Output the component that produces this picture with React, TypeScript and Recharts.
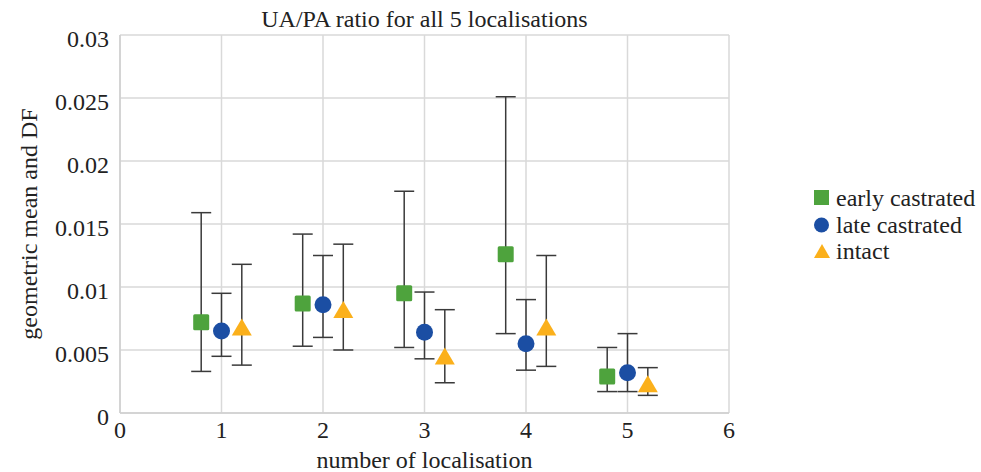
import React from 'react';
import { ScatterChart, Scatter, XAxis, YAxis, CartesianGrid, ErrorBar } from 'recharts';

const localisations = [1, 2, 3, 4, 5];
const xTicks = [0, 1, 2, 3, 4, 5, 6];
const yTicks = [0, 0.005, 0.01, 0.015, 0.02, 0.025, 0.03];

const earlyMean = [0.0072, 0.0087, 0.0095, 0.0126, 0.0029];
const earlyUpper = [0.0159, 0.0142, 0.0176, 0.0251, 0.0052];
const earlyLower = [0.0033, 0.0053, 0.0052, 0.0063, 0.0017];

const lateMean = [0.0065, 0.0086, 0.0064, 0.0055, 0.0032];
const lateUpper = [0.0095, 0.0125, 0.0096, 0.009, 0.0063];
const lateLower = [0.0045, 0.006, 0.0043, 0.0034, 0.0017];

const intactMean = [0.0067, 0.0081, 0.0044, 0.0067, 0.0022];
const intactUpper = [0.0118, 0.0134, 0.0082, 0.0125, 0.0036];
const intactLower = [0.0038, 0.005, 0.0024, 0.0037, 0.0014];

const GREEN = '#4ea33d';
const BLUE = '#1b4ea3';
const ORANGE = '#fbb01b';
const FONT = '"Liberation Serif"';

function build(offset: number, mean: number[], upper: number[], lower: number[]) {
  return localisations.map((loc, i) => ({
    x: loc + offset,
    y: mean[i],
    err: [mean[i] - lower[i], upper[i] - mean[i]],
  }));
}

const earlyData = build(-0.2, earlyMean, earlyUpper, earlyLower);
const lateData = build(0, lateMean, lateUpper, lateLower);
const intactData = build(0.2, intactMean, intactUpper, intactLower);

const Square = (p: any) => <rect x={p.cx - 8} y={p.cy - 8} width={16} height={16} rx={1.5} fill={GREEN} />;
const Circle = (p: any) => <circle cx={p.cx} cy={p.cy} r={8.5} fill={BLUE} />;
const Triangle = (p: any) => (
  <polygon points={`${p.cx},${p.cy - 10} ${p.cx + 10},${p.cy + 7} ${p.cx - 10},${p.cy + 7}`} fill={ORANGE} />
);

const legendItems = [
  { label: 'early castrated', kind: 'square' },
  { label: 'late castrated', kind: 'circle' },
  { label: 'intact', kind: 'triangle' },
];

function LegendMark({ kind }: { kind: string }) {
  return (
    <svg width={18} height={18} style={{ marginRight: 5 }}>
      {kind === 'square' && <rect x={1} y={1} width={15} height={15} fill={GREEN} />}
      {kind === 'circle' && <circle cx={8.5} cy={9} r={7.5} fill={BLUE} />}
      {kind === 'triangle' && <polygon points="9,2 17,16 1,16" fill={ORANGE} />}
    </svg>
  );
}

export default function App() {
  return (
    <div className="chart-root" style={{ position: 'absolute', left: 0, top: 0, width: 981, height: 472, background: '#fff', fontFamily: FONT }}>
      <style>{`.chart-root, .chart-root div, .chart-root text, .chart-root tspan { font-family: "Liberation Serif" !important; }`}</style>
      <div style={{ position: 'absolute', left: 120, width: 609, top: 5, textAlign: 'center', fontSize: 24, lineHeight: '28px', color: '#222' }}>
        UA/PA ratio for all 5 localisations
      </div>
      <ScatterChart width={981} height={472} margin={{ top: 35, right: 252, bottom: 0, left: 0 }} style={{ fontFamily: FONT }}>
        <CartesianGrid stroke="#d9d9d9" strokeWidth={1.5} />
        <XAxis
          type="number"
          dataKey="x"
          domain={[0, 6]}
          ticks={xTicks}
          height={59}
          tickLine={false}
          axisLine={{ stroke: '#cfcfcf', strokeWidth: 1.5 }}
          tick={{ fill: '#222', fontSize: 24, fontFamily: FONT }}
          tickMargin={2}
          label={{ value: 'number of localisation', position: 'insideBottom', offset: 4, fill: '#222', fontSize: 24, fontFamily: FONT }}
        />
        <YAxis
          type="number"
          dataKey="y"
          domain={[0, 0.03]}
          ticks={yTicks}
          width={120}
          tickLine={false}
          axisLine={{ stroke: '#cfcfcf', strokeWidth: 1.5 }}
          tick={{ fill: '#222', fontSize: 24, fontFamily: FONT, dy: 3 }}
          tickMargin={5}
          label={{ value: 'geometric mean and DF', angle: -90, position: 'insideLeft', offset: 28, style: { textAnchor: 'middle' }, fill: '#222', fontSize: 24, fontFamily: FONT }}
        />
        <Scatter data={earlyData} shape={Square} isAnimationActive={false}>
          <ErrorBar dataKey="err" direction="y" width={10} stroke="#3a3a3a" strokeWidth={1.5} />
        </Scatter>
        <Scatter data={lateData} shape={Circle} isAnimationActive={false}>
          <ErrorBar dataKey="err" direction="y" width={10} stroke="#3a3a3a" strokeWidth={1.5} />
        </Scatter>
        <Scatter data={intactData} shape={Triangle} isAnimationActive={false}>
          <ErrorBar dataKey="err" direction="y" width={10} stroke="#3a3a3a" strokeWidth={1.5} />
        </Scatter>
      </ScatterChart>
      <div style={{ position: 'absolute', left: 813, top: 185, fontSize: 24, color: '#222', lineHeight: '26.5px' }}>
        {legendItems.map((it) => (
          <div key={it.label} style={{ display: 'flex', alignItems: 'center' }}>
            <LegendMark kind={it.kind} />
            {it.label}
          </div>
        ))}
      </div>
    </div>
  );
}
